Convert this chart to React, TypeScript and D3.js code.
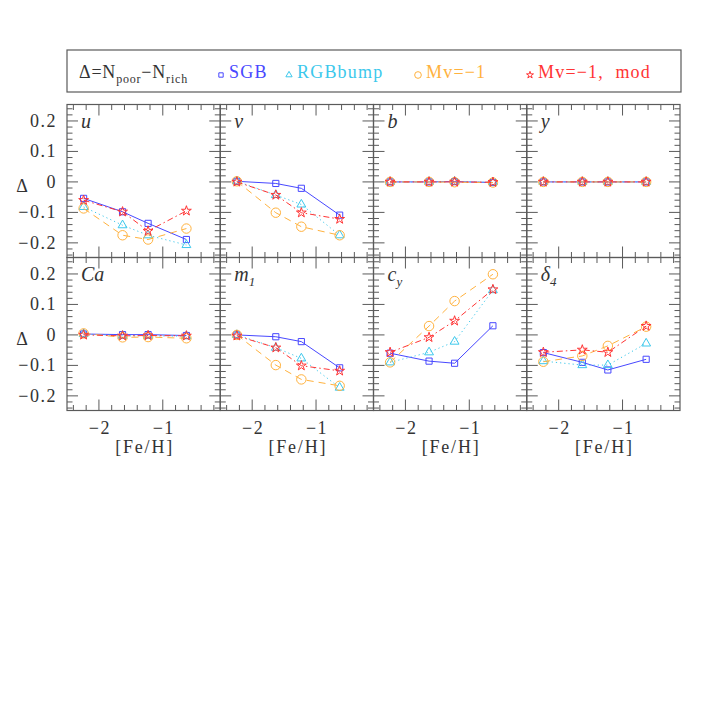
import React from 'react';
import * as d3 from 'd3';

// [Fe/H] of the four clusters
const feh = [-2.24, -1.63, -1.23, -0.63];

// panel labels: [main, subscript]
const panelLabels: [string, string][] = [
  ['u', ''], ['v', ''], ['b', ''], ['y', ''],
  ['Ca', ''], ['m', '1'], ['c', 'y'], ['δ', '4'],
];

// values per panel (u, v, b, y, Ca, m1, cy, delta4)
const sgbValues = [
  [-0.054, -0.098, -0.136, -0.189],
  [0.002, -0.005, -0.021, -0.109],
  [0, 0, 0.001, -0.002],
  [0, 0, 0, 0],
  [0.003, 0.001, 0.001, -0.002],
  [0, -0.006, -0.022, -0.108],
  [-0.06, -0.086, -0.093, 0.03],
  [-0.058, -0.09, -0.115, -0.08],
];
const rgbValues = [
  [-0.082, -0.142, -0.175, -0.207],
  [0.002, -0.043, -0.074, -0.175],
  [0, 0, 0.001, -0.001],
  [0, 0, 0, 0],
  [0.003, -0.003, -0.003, -0.004],
  [0, -0.042, -0.077, -0.173],
  [-0.09, -0.057, -0.022, 0.147],
  [-0.086, -0.099, -0.099, -0.028],
];
const mvValues = [
  [-0.087, -0.175, -0.189, -0.153],
  [0.002, -0.101, -0.147, -0.175],
  [0, 0, -0.001, -0.002],
  [0, 0, 0, 0],
  [0.005, -0.008, -0.007, -0.011],
  [0, -0.099, -0.146, -0.167],
  [-0.09, 0.029, 0.111, 0.199],
  [-0.088, -0.069, -0.036, 0.027],
];
const modValues = [
  [-0.06, -0.098, -0.161, -0.095],
  [0, -0.043, -0.101, -0.122],
  [0, 0, 0, -0.001],
  [0, 0, 0, 0],
  [0, -0.003, -0.002, -0.003],
  [-0.003, -0.042, -0.101, -0.118],
  [-0.057, -0.008, 0.046, 0.149],
  [-0.057, -0.049, -0.057, 0.029],
];

const seriesNames = ['SGB', 'RGBbump', 'Mv=−1', 'Mv=−1,  mod'];
const seriesColors = ['#4848ff', '#3cc8ec', '#ffb23e', '#ff3434'];
const seriesDash = ['none', '1.2,3', '7,5', '6,3,1.5,3'];
const seriesSymbols = [d3.symbolSquare, d3.symbolTriangle, d3.symbolCircle, d3.symbolStar];
const seriesSizes = [38, 34, 70, 30];
const allSeries = [sgbValues, rgbValues, mvValues, modValues];

const yTicks = [-0.2, -0.1, 0, 0.1, 0.2];
const xTicks = [-2, -1];

const FONT = "'Liberation Serif', 'DejaVu Serif', serif";
const FRAME = '#5a5a5a';
const TXT = '#333';

const left = 67, right = 680, top = 104.5, ph = 153;
const pw = (right - left) / 4;

function fmt(v: number) {
  const s = v === 0 ? '0' : Math.abs(v).toString();
  return v < 0 ? '−' + s : s;
}

function Panel({ idx }: { idx: number }) {
  const col = idx % 4, row = Math.floor(idx / 4);
  const x0 = left + col * pw, y0 = top + row * ph;
  const x = d3.scaleLinear().domain([-2.5, -0.1]).range([x0, x0 + pw]);
  const y = d3.scaleLinear().domain([-0.248, 0.254]).range([y0 + ph, y0]);
  const xMinor = d3.range(-2.4, -0.1, 0.2).map(v => +v.toFixed(2));
  const yMinor = d3.range(-0.24, 0.25, 0.02).map(v => +v.toFixed(3));
  const majL = 11, minL = 5.5;
  const ticks: JSX.Element[] = [];
  xMinor.forEach((v, i) => {
    const isMaj = xTicks.some(t => Math.abs(t - v) < 1e-6);
    const L = isMaj ? majL : minL;
    ticks.push(<line key={'xb' + i} x1={x(v)} x2={x(v)} y1={y0 + ph} y2={y0 + ph - L} />);
    ticks.push(<line key={'xt' + i} x1={x(v)} x2={x(v)} y1={y0} y2={y0 + L} />);
  });
  yMinor.forEach((v, i) => {
    const isMaj = yTicks.some(t => Math.abs(t - v) < 1e-6);
    const L = isMaj ? majL : minL;
    ticks.push(<line key={'yl' + i} x1={x0} x2={x0 + L} y1={y(v)} y2={y(v)} />);
    ticks.push(<line key={'yr' + i} x1={x0 + pw} x2={x0 + pw - L} y1={y(v)} y2={y(v)} />);
  });
  const line = d3.line<number>().x((_, i) => x(feh[i])).y(d => y(d));
  const [lab, sub] = panelLabels[idx];
  return (
    <g>
      <g stroke={FRAME} strokeWidth={1}>{ticks}</g>
      <rect x={x0} y={y0} width={pw} height={ph} fill="none" stroke={FRAME} strokeWidth={1.2} />
      {allSeries.map((s, si) => (
        <g key={si}>
          <path d={line(s[idx]) || ''} fill="none" stroke={seriesColors[si]} strokeWidth={1}
            strokeDasharray={seriesDash[si]} />
          {s[idx].map((v, i) => (
            <path key={i} transform={`translate(${x(feh[i])},${y(v)})`}
              d={d3.symbol().type(seriesSymbols[si]).size(seriesSizes[si])() || ''}
              fill="none" stroke={seriesColors[si]} strokeWidth={1} />
          ))}
        </g>
      ))}
      <text x={x0 + 14} y={y0 + 23} fontFamily={FONT} fontStyle="italic" fontSize={20} fill={TXT}>
        {lab}
        {sub && <tspan dy={5} fontSize={13}>{sub}</tspan>}
      </text>
      {col === 0 && yTicks.map(t => (
        <text key={t} x={57} y={y(t) + 6} textAnchor="end" fontFamily={FONT} fontSize={18}
          letterSpacing={1.5} fill={TXT}>{fmt(t)}</text>
      ))}
      {col === 0 && (
        <text x={22} y={y(0) + 10} textAnchor="middle" fontFamily={FONT} fontSize={18} fill={TXT}>Δ</text>
      )}
      {row === 1 && xTicks.map(t => (
        <text key={t} x={x(t) + 1} y={y0 + ph + 23} textAnchor="middle" fontFamily={FONT} fontSize={18}
          letterSpacing={1.5} fill={TXT}>{fmt(t)}</text>
      ))}
      {row === 1 && (
        <text x={x0 + pw / 2 + 1} y={y0 + ph + 42} textAnchor="middle" fontFamily={FONT} fontSize={18}
          letterSpacing={1.8} fill={TXT}>[Fe/H]</text>
      )}
    </g>
  );
}

function Legend() {
  const textX = [229, 297, 426, 538];
  const by = 78;
  return (
    <g>
      <rect x={67} y={50} width={614} height={42} fill="none" stroke={FRAME} strokeWidth={1.2} />
      <text x={79} y={by} fontFamily={FONT} fontSize={18} fill={TXT} letterSpacing={0.8}>
        Δ=N<tspan dy={5} fontSize={12}>poor</tspan><tspan dy={-5}>−N</tspan><tspan dy={5} fontSize={12}>rich</tspan>
      </text>
      {seriesNames.map((n, i) => (
        <g key={n}>
          <path transform={`translate(${textX[i] - 8},${by - 3})`}
            d={d3.symbol().type(seriesSymbols[i]).size(seriesSizes[i] * 0.5)() || ''}
            fill="none" stroke={seriesColors[i]} strokeWidth={1} />
          <text x={textX[i]} y={by} fontFamily={FONT} fontSize={18} fill={seriesColors[i]}
            letterSpacing={1.2} style={{ whiteSpace: 'pre' }}>{n}</text>
        </g>
      ))}
    </g>
  );
}

export default function App() {
  return (
    <svg width={718} height={718} style={{ position: 'absolute', left: 0, top: 0, background: '#fff' }}>
      <rect x={0} y={0} width={718} height={718} fill="#fff" />
      <Legend />
      {d3.range(8).map(i => <Panel key={i} idx={i} />)}
    </svg>
  );
}
